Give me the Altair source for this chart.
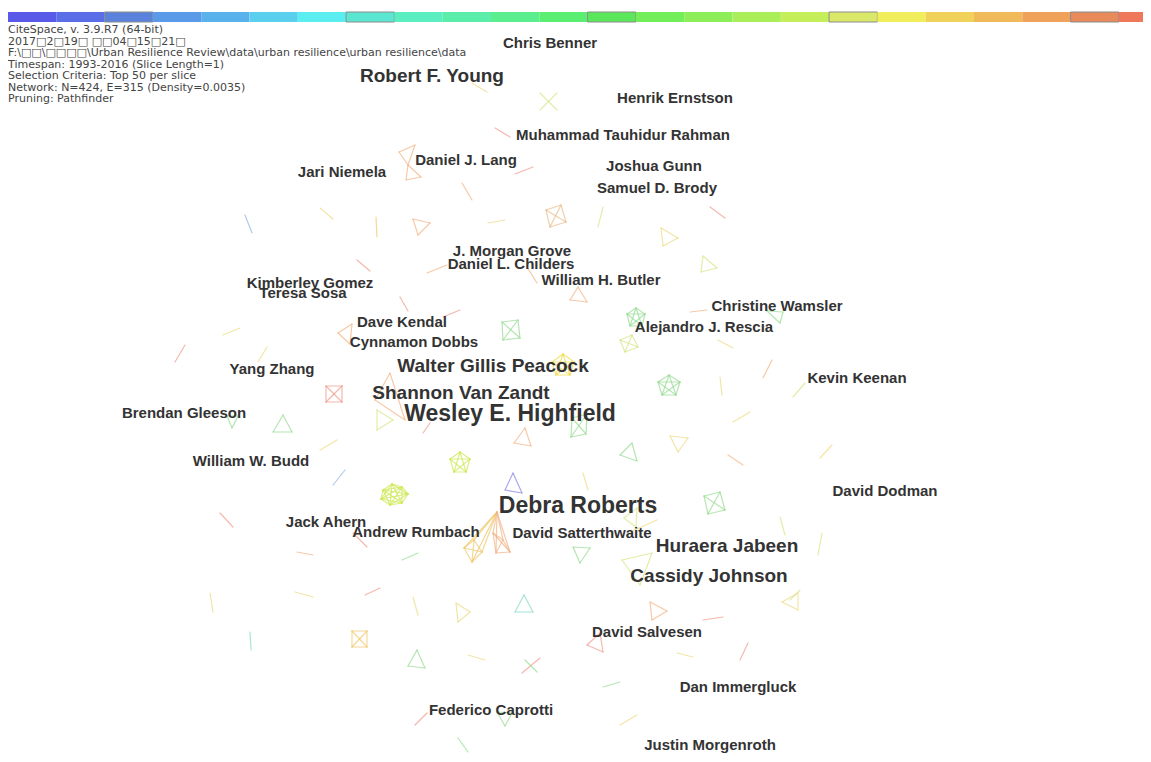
import itertools
import altair as alt
import pandas as pd

# ---------------- data ----------------
SLICE_YEARS = list(range(1993, 2017))
SLICE_COLORS = [
    "#5a5ae8", "#5a6ee8", "#5a82dc", "#5a9ae8", "#5ab2ec", "#5ad0ee",
    "#5aeef0", "#5ae6d0", "#5aeec0", "#5aeeaa", "#5aee8e", "#5aee72",
    "#5ae85a", "#72ee5a", "#8eee5a", "#aaee5a", "#c4ee5a", "#dae86a",
    "#f0ee5a", "#f0d25a", "#f0ba5a", "#f0a25a", "#e88a5a", "#f0785a",
]
SLICE_BOXED = [(i % 5 == 2) for i in range(24)]

HEADER_LINES = [
    "CiteSpace, v. 3.9.R7 (64-bit)",
    "2017\u25a12\u25a119\u25a1 \u25a1\u25a104\u25a115\u25a121\u25a1",
    "F:\\\u25a1\u25a1\\\u25a1\u25a1\u25a1\u25a1\\Urban Resilience Review\\data\\urban resilience\\urban resilience\\data",
    "Timespan: 1993-2016 (Slice Length=1)",
    "Selection Criteria: Top 50 per slice",
    "Network: N=424, E=315 (Density=0.0035)",
    "Pruning: Pathfinder",
]

LABEL_NAMES = [
    "Chris Benner", "Robert F. Young", "Henrik Ernstson", "Muhammad Tauhidur Rahman",
    "Daniel J. Lang", "Jari Niemela", "Joshua Gunn", "Samuel D. Brody",
    "J. Morgan Grove", "Daniel L. Childers", "William H. Butler", "Kimberley Gomez",
    "Teresa Sosa", "Christine Wamsler", "Dave Kendal", "Alejandro J. Rescia",
    "Cynnamon Dobbs", "Walter Gillis Peacock", "Yang Zhang", "Kevin Keenan",
    "Shannon Van Zandt", "Wesley E. Highfield", "Brendan Gleeson", "William W. Budd",
    "David Dodman", "Debra Roberts", "Jack Ahern", "Andrew Rumbach",
    "David Satterthwaite", "Huraera Jabeen", "Cassidy Johnson", "David Salvesen",
    "Dan Immergluck", "Federico Caprotti", "Justin Morgenroth",
]
LABEL_X = [550, 432, 675, 623, 466, 342, 654, 657, 512, 511, 601, 310, 303, 777, 402,
           704, 414, 493, 272, 857, 461, 510, 184, 251, 885, 578, 326, 416, 582, 727,
           709, 647, 738, 491, 710]
LABEL_Y = [43, 76, 98, 135, 160, 172, 166, 188, 251, 264, 280, 283, 293, 306, 322,
           327, 342, 366, 369, 378, 393, 414, 413, 461, 491, 506, 522, 532, 533, 546,
           576, 632, 687, 710, 745]
LABEL_FREQ = [4, 5, 4, 4, 4, 4, 4, 4, 4, 4, 4, 4, 4, 4, 4, 4, 4, 5, 4, 4, 5, 6, 4, 4,
              4, 6, 4, 4, 4, 5, 5, 4, 4, 4, 4]

GROUP_COLOR = [
    "yel", "ylg", "ylg", "sal", "or", "or", "sal", "or", "tan", "or",
    "yel", "ylg", "sal", "yel", "blu", "yel", "yor", "sal", "or", "or",
    "or", "sal", "ylg", "sal", "or", "grn", "yels", "or", "sal", "ylg",
    "sal", "or", "grn", "grn", "yel", "grn", "ylg", "or", "grn", "yel",
    "or", "grn", "yel", "ylg", "yel", "yel", "yel", "or", "yel", "grn",
    "ylg", "ylg", "ylg", "yel", "sal", "yel", "grn", "grn", "blu", "lime",
    "sal", "sal", "or", "lime", "pur", "yor", "or", "grn", "ylg", "grn",
    "ylg", "yel", "yel", "sal", "yel", "yel", "yel", "cy", "cy", "yor",
    "grn", "yel", "sal", "grn", "sal", "grn", "grn", "or", "yel", "sal",
    "sal", "yel", "sal", "grn", "yel",
]
GROUP_NODES = [
    [(472, 83), (487, 92)],
    [(540, 93), (557, 110)],
    [(557, 93), (540, 110)],
    [(495, 128), (510, 137)],
    [(399, 152), (415, 145), (408, 165)],
    [(408, 165), (406, 180), (421, 177)],
    [(515, 174), (533, 167)],
    [(462, 183), (472, 200)],
    [(546, 210), (561, 205), (566, 222), (550, 227)],
    [(413, 219), (430, 223), (418, 235)],
    [(488, 223), (505, 220)],
    [(603, 207), (598, 227)],
    [(710, 207), (725, 218)],
    [(661, 228), (678, 238), (663, 246)],
    [(245, 215), (252, 233)],
    [(320, 208), (333, 219)],
    [(376, 217), (377, 237)],
    [(357, 260), (370, 271)],
    [(427, 273), (447, 265)],
    [(527, 267), (537, 283)],
    [(578, 287), (587, 302), (570, 300)],
    [(400, 297), (408, 311)],
    [(703, 256), (717, 268), (701, 272)],
    [(443, 317), (460, 310)],
    [(352, 324), (338, 333), (350, 344)],
    [(502, 322), (518, 320), (520, 338), (503, 340)],
    [(563, 354), (574, 362), (570, 375), (556, 375), (552, 362)],
    [(390, 373), (375, 400), (405, 420)],
    [(326, 386), (342, 386), (342, 402), (326, 402)],
    [(377, 410), (393, 420), (377, 430)],
    [(423, 433), (430, 423)],
    [(525, 428), (531, 446), (514, 443)],
    [(572, 418), (587, 414), (586, 434), (571, 437)],
    [(632, 443), (620, 455), (637, 461)],
    [(320, 450), (337, 440)],
    [(636, 308), (645, 314), (642, 326), (630, 326), (627, 314)],
    [(620, 340), (632, 335), (638, 347), (625, 352)],
    [(690, 312), (707, 310)],
    [(767, 311), (783, 312), (780, 323)],
    [(718, 340), (733, 348)],
    [(772, 360), (763, 378)],
    [(669, 375), (680, 382), (676, 395), (662, 395), (658, 382)],
    [(720, 377), (722, 395)],
    [(805, 383), (793, 397)],
    [(733, 422), (750, 412)],
    [(820, 458), (832, 445)],
    [(670, 436), (688, 438), (678, 452)],
    [(728, 455), (743, 465)],
    [(583, 473), (588, 490)],
    [(704, 496), (720, 492), (725, 510), (708, 514)],
    [(780, 517), (785, 535)],
    [(822, 533), (818, 555)],
    [(790, 600), (800, 590)],
    [(223, 335), (240, 328)],
    [(175, 362), (185, 345)],
    [(258, 362), (267, 347)],
    [(227, 416), (238, 416), (232, 428)],
    [(283, 415), (292, 432), (273, 432)],
    [(333, 485), (345, 470)],
    [(383, 490), (392, 484), (402, 487), (408, 494), (402, 503), (390, 505), (381, 499)],
    [(220, 513), (233, 527)],
    [(353, 533), (367, 547)],
    [(297, 552), (313, 555)],
    [(460, 452), (470, 459), (466, 472), (454, 472), (450, 459)],
    [(513, 473), (505, 490), (522, 493)],
    [(497, 512), (464, 548), (474, 540), (482, 552), (472, 562)],
    [(497, 512), (493, 533), (503, 540), (496, 553), (510, 552)],
    [(402, 560), (418, 553)],
    [(622, 560), (652, 553), (640, 585)],
    [(573, 547), (590, 548), (580, 563)],
    [(637, 508), (624, 518), (636, 527)],
    [(630, 532), (657, 520)],
    [(295, 592), (313, 597)],
    [(365, 595), (380, 588)],
    [(210, 593), (213, 612)],
    [(413, 597), (418, 615)],
    [(456, 603), (470, 612), (458, 622)],
    [(524, 595), (533, 612), (515, 612)],
    [(250, 632), (251, 650)],
    [(352, 631), (367, 631), (367, 647), (352, 647)],
    [(417, 650), (425, 668), (408, 666)],
    [(468, 655), (485, 660)],
    [(522, 673), (540, 658)],
    [(525, 660), (537, 672)],
    [(415, 725), (427, 713)],
    [(497, 712), (512, 713), (505, 726)],
    [(458, 738), (468, 752)],
    [(650, 602), (667, 611), (652, 620)],
    [(798, 593), (782, 602), (798, 610)],
    [(703, 620), (723, 617)],
    [(600, 633), (587, 645), (603, 652)],
    [(677, 653), (693, 657)],
    [(740, 660), (748, 643)],
    [(603, 687), (620, 682)],
    [(620, 725), (637, 715)],
]

PALETTE = {
    "or": "#f2b283", "sal": "#f09a8c", "yel": "#ecda80", "yor": "#f0c86a",
    "ylg": "#d6e684", "grn": "#96dc92", "cy": "#84d8c6", "blu": "#8eb4e6",
    "pur": "#8484e6", "lime": "#cce84e", "yels": "#f0dc46", "tan": "#e8bc8a",
}

# ---------------- tables ----------------
bar_df = pd.DataFrame({
    "year": SLICE_YEARS,
    "year_end": [y + 1 for y in SLICE_YEARS],
    "color": SLICE_COLORS,
    "boxed": SLICE_BOXED,
})

edge_rows = []
for ckey, nodes in zip(GROUP_COLOR, GROUP_NODES):
    for (xa, ya), (xb, yb) in itertools.combinations(nodes, 2):
        edge_rows.append({"x": xa, "y": ya, "x2": xb, "y2": yb, "color": PALETTE[ckey]})
edge_df = pd.DataFrame(edge_rows)

label_df = pd.DataFrame({"name": LABEL_NAMES, "x": LABEL_X, "y": LABEL_Y, "freq": LABEL_FREQ})

W, H = 1135, 746
xs = alt.Scale(domain=[8, 8 + W])
ys = alt.Scale(domain=[8, 8 + H], reverse=True)

bar_fill = alt.Chart(bar_df).mark_rect(clip=True).encode(
    x=alt.X("year:Q", scale=alt.Scale(domain=[1993, 1993 + W / 48.3]), axis=None),
    x2="year_end:Q",
    y=alt.value(4),
    y2=alt.value(14),
    color=alt.Color("color:N", scale=None, legend=None),
    stroke=alt.condition("datum.boxed", alt.value("#8c8c8c"), alt.value(None)),
    strokeWidth=alt.value(1),
)

edges = alt.Chart(edge_df).mark_rule(strokeWidth=1.2, opacity=0.7, strokeCap="round").encode(
    x=alt.X("x:Q", scale=xs, axis=None),
    y=alt.Y("y:Q", scale=ys, axis=None),
    x2="x2:Q",
    y2="y2:Q",
    color=alt.Color("color:N", scale=None, legend=None),
)

labels = alt.Chart(label_df).mark_text(
    font="Liberation Sans", fontWeight="bold", color="#333333",
    align="center", baseline="middle",
).encode(
    x=alt.X("x:Q", scale=xs, axis=None),
    y=alt.Y("y:Q", scale=ys, axis=None),
    text="name:N",
    size=alt.Size("freq:Q", scale=alt.Scale(domain=[4, 6], range=[15, 23]), legend=None),
)

header = alt.Chart(pd.DataFrame({"a": [0]})).mark_text(
    text=HEADER_LINES, font="DejaVu Sans", fontSize=11, color="#444444",
    align="left", baseline="alphabetic", lineHeight=11.5,
).encode(x=alt.value(0), y=alt.value(25))

chart = alt.layer(bar_fill, edges, labels, header).resolve_scale(
    x="independent"
).properties(
    width=W, height=H, padding=0, autosize=alt.AutoSizeParams(type="none"),
    background="white",
).configure_view(stroke=None)

chart.save("out.html", embed_options={"renderer": "svg", "actions": False})
